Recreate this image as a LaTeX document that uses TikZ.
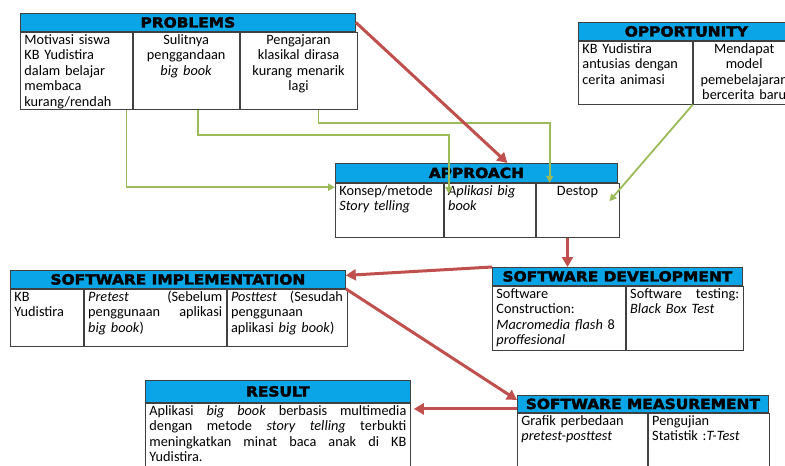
\documentclass[tikz,border=0pt]{standalone}
\usepackage{fontspec}
\setmainfont{Carlito}
\newfontfamily\headfont[FakeStretch=1.1,FakeBold=2.5]{DejaVu Sans Bold}
\usetikzlibrary{arrows.meta}
\definecolor{headblue}{RGB}{10,165,230}
\definecolor{flowred}{RGB}{192,80,77}
\definecolor{flowgreen}{RGB}{155,187,89}
\newcommand{\fillline}[1]{\makebox[\hsize][s]{\spaceskip=0.23em plus 1fil\relax #1}}

\begin{document}
\begin{tikzpicture}[x=1pt, y=-1pt,
    head/.style={rectangle, draw=black!75, line width=0.8pt, fill=headblue, anchor=north west, inner sep=0pt, font=\headfont\fontsize{14}{16}\selectfont},
    cell/.style={rectangle, draw=black!75, line width=0.8pt, fill=white, anchor=north west, inner xsep=4pt, inner ysep=2pt, text height=10pt, align=left, font=\fontsize{14.3}{15.5}\selectfont},
    flow/.style={-{Triangle[length=10pt,width=11pt]}, line width=3pt, draw=flowred},
    feed/.style={-{Triangle[length=7pt,width=7pt]}, line width=1.8pt, draw=flowgreen}
]
    \useasboundingbox (0,0) rectangle (785,466);

    % Problems
    \node[head, minimum width=335pt, minimum height=18pt] (prob) at (20,13) {PROBLEMS};
    \node[cell, text width=104pt, text depth=63pt] (prob1) at (prob.south west) {Motivasi siswa\\KB Yudistira\\dalam belajar\\membaca\\kurang/rendah};
    \node[cell, text width=98pt, text depth=63pt, align=center] (prob2) at (prob1.north east) {Sulitnya\\penggandaan\\\textit{big book}};
    \node[cell, text width=109pt, text depth=63pt, align=center] (prob3) at (prob2.north east) {Pengajaran\\klasikal dirasa\\kurang menarik\\lagi};

    % Opportunity
    \node[head, minimum width=216pt, minimum height=18pt] (opp) at (578,22) {OPPORTUNITY};
    \node[cell, text width=106pt, text depth=49pt] (opp1) at (opp.south west) {KB Yudistira\\antusias dengan\\cerita animasi};
    \node[cell, text width=94pt, text depth=49pt, align=center] (opp2) at (opp1.north east) {Mendapat\\model\\pemebelajaran\\bercerita baru};

    % Approach
    \node[head, minimum width=282pt, minimum height=19pt] (appr) at (335,163) {APPROACH};
    \node[cell, text width=100pt, text depth=40pt] (appr1) at (appr.south west) {Konsep/metode\\\textit{Story telling}};
    \node[cell, text width=83pt, text depth=40pt] (appr2) at (appr1.north east) {\textit{Aplikasi big}\\\textit{book}};
    \node[cell, text width=75pt, text depth=40pt, align=center] (appr3) at (appr2.north east) {Destop};

    % Software implementation
    \node[head, minimum width=335pt, minimum height=18pt] (impl) at (10,270) {SOFTWARE IMPLEMENTATION};
    \node[cell, text width=65pt, text depth=43pt] (impl1) at (impl.south west) {KB\\Yudistira};
    \node[cell, text width=134pt, text depth=43pt] (impl2) at (impl1.north east) {\fillline{\textit{Pretest} (Sebelum}\\\fillline{penggunaan aplikasi}\\\textit{big book})};
    \node[cell, text width=112pt, text depth=43pt] (impl3) at (impl2.north east) {\fillline{\textit{Posttest} (Sesudah}\\penggunaan\\aplikasi \textit{big book})};

    % Software development
    \node[head, minimum width=250pt, minimum height=18pt] (dev) at (492,267) {SOFTWARE DEVELOPMENT};
    \node[cell, text width=125pt, text depth=50pt] (dev1) at (dev.south west) {Software\\Construction:\\\textit{Macromedia flash} 8\\\textit{proffesional}};
    \node[cell, text width=109pt, text depth=50pt] (dev2) at (dev1.north east) {\fillline{Software testing:}\\\textit{Black Box Test}};

    % Result
    \node[head, minimum width=265pt, minimum height=22pt] (res) at (145,380) {RESULT};
    \node[cell, text width=257pt, text depth=64pt] (res1) at (res.south west) {\fillline{Aplikasi \textit{big book} berbasis multimedia}\\\fillline{dengan metode \textit{story telling} terbukti}\\\fillline{meningkatkan minat baca anak di KB}\\Yudistira.};

    % Software measurement
    \node[head, minimum width=251pt, minimum height=17pt] (meas) at (517,395) {SOFTWARE MEASUREMENT};
    \node[cell, text width=122pt, text depth=54pt] (meas1) at (meas.south west) {Grafik perbedaan\\\textit{pretest-posttest}};
    \node[cell, text width=113pt, text depth=54pt] (meas2) at (meas1.north east) {Pengujian\\Statistik :\textit{T-Test}};

    % Feeds into the approach
    \draw[feed] ([xshift=50pt]prob1.south) |- ([yshift=23pt]appr1.west);
    \draw[feed] ([xshift=12pt]prob2.south) -- ++(0,25) -| ([xshift=5pt,yshift=-11pt]appr2.north west);
    \draw[feed] ([xshift=20pt]prob3.south) -- ++(0,13) -| ([xshift=14pt]appr3.north west);
    \draw[feed] (opp1.south east) -- ([xshift=-10pt,yshift=9pt]appr3.east);

    % Main flow
    \draw[flow] (prob.east) -- ([xshift=31pt]appr.north);
    \draw[flow] ([xshift=-10pt]appr3.south) -- ([xshift=-10pt]appr3.south |- dev.north);
    \draw[flow] (dev.north west) -- ([yshift=4pt]impl.east);
    \draw[flow] (impl.south east) -- ([yshift=-5pt]meas.north west);
    \draw[flow, shorten >=3pt] ([yshift=-5pt]meas.west) -- ([yshift=-5pt]meas.west -| res.east);

\end{tikzpicture}
\end{document}
